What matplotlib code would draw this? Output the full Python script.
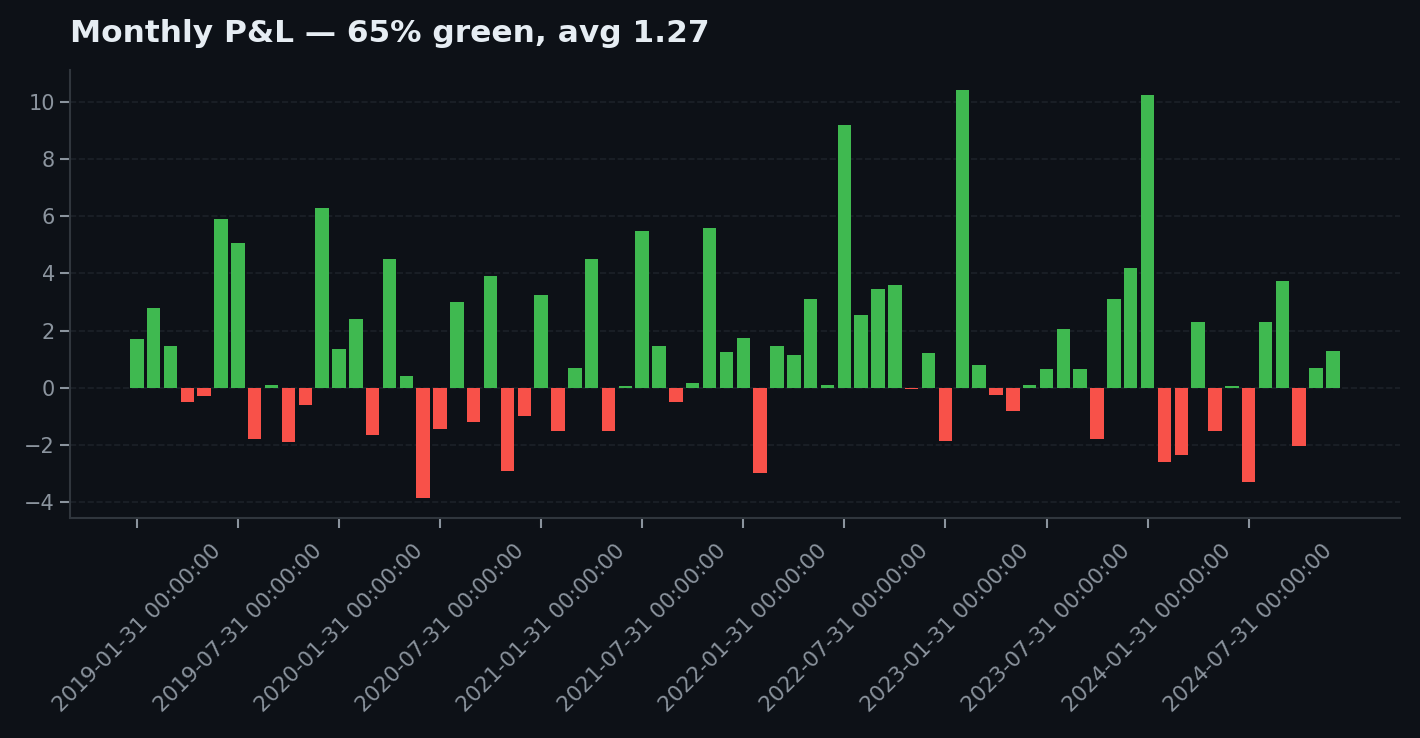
import matplotlib
matplotlib.use("Agg")
import matplotlib.pyplot as plt
import pandas as pd

# monthly P&L, Jan 2019 .. Dec 2024
months = pd.date_range("2019-01-31", periods=72, freq="ME")
pnl = [
    1.70, 2.80, 1.45, -0.50, -0.30, 5.90, 5.05, -1.80, 0.10, -1.90, -0.60, 6.30,
    1.35, 2.40, -1.65, 4.50, 0.40, -3.85, -1.45, 3.00, -1.20, 3.90, -2.90, -1.00,
    3.25, -1.50, 0.70, 4.50, -1.50, 0.05, 5.50, 1.45, -0.50, 0.15, 5.60, 1.25,
    1.75, -3.00, 1.45, 1.15, 3.10, 0.10, 9.20, 2.55, 3.45, 3.60, -0.05, 1.20,
    -1.85, 10.40, 0.80, -0.25, -0.80, 0.10, 0.65, 2.05, 0.65, -1.80, 3.10, 4.20,
    10.25, -2.60, -2.35, 2.30, -1.50, 0.05, -3.30, 2.30, 3.75, -2.05, 0.70, 1.30,
]
labels = [str(m) for m in months]

BG = "#0d1117"
GREEN = "#3fb950"
RED = "#f85149"
MUTED = "#8b949e"
SPINE = "#30363d"

fig, ax = plt.subplots(figsize=(14.2, 7.38), dpi=100)
fig.patch.set_facecolor(BG)
ax.set_facecolor(BG)

colors = [GREEN if v >= 0 else RED for v in pnl]
x = list(range(len(pnl)))
ax.bar(x, pnl, width=0.8, color=colors, zorder=3)

ax.set_xticks(x[::6])
ax.set_xticklabels(labels[::6], rotation=45)

ax.grid(axis="y", color="#1c2128", linestyle="--", linewidth=1.2, zorder=0)
for side in ["top", "right"]:
    ax.spines[side].set_visible(False)
for side in ["left", "bottom"]:
    ax.spines[side].set_color(SPINE)
    ax.spines[side].set_linewidth(1.5)
ax.tick_params(colors=MUTED, labelsize=15, length=7, width=1.5)
ax.tick_params(axis="x", labelsize=15.5, pad=9)

ax.set_title("Monthly P&L — 65% green, avg 1.27", loc="left", fontsize=22.5,
             fontweight="bold", color="#e6edf3", pad=20)

fig.subplots_adjust(left=0.049, right=0.986, top=0.905, bottom=0.298)
fig.savefig("out.png", facecolor=BG)
